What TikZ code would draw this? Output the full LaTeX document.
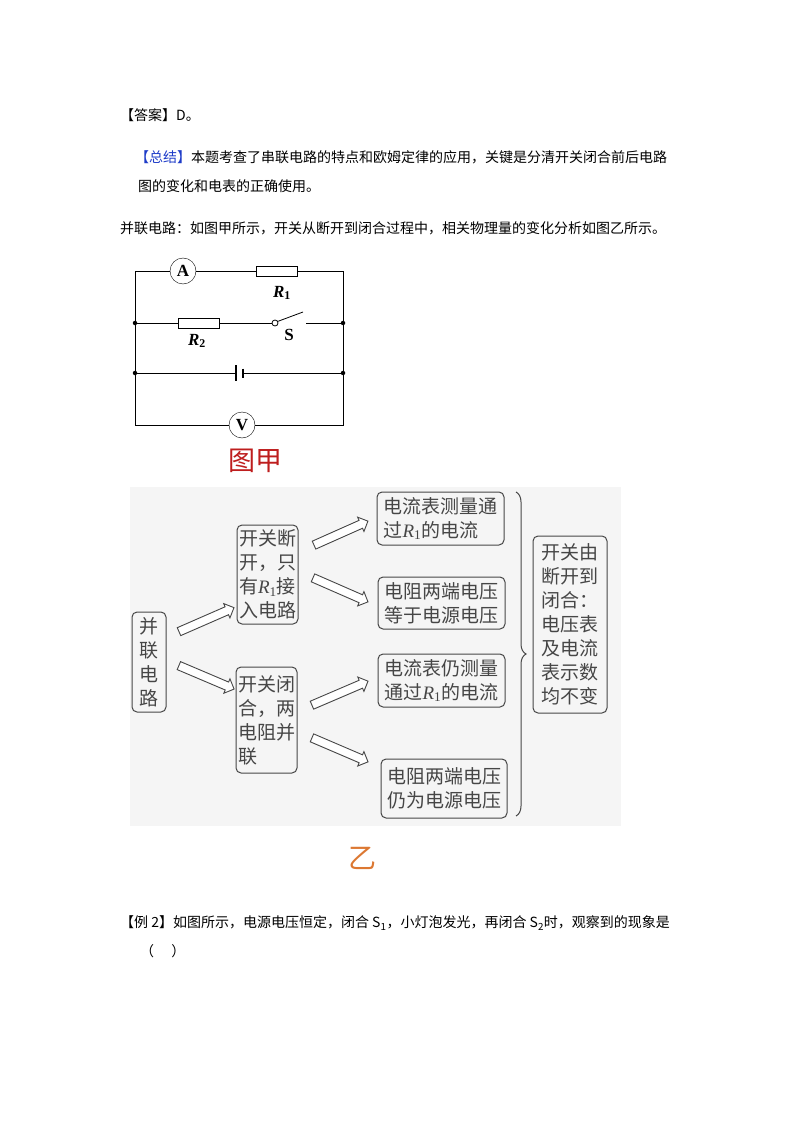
\documentclass[tikz,border=0pt]{standalone}
\usepackage{fontspec}
\setmainfont{Liberation Serif}
\newfontfamily\cjk{Noto Sans CJK SC}
\usetikzlibrary{shapes.arrows,decorations.pathreplacing}
\definecolor{boxgray}{RGB}{70,70,70}
\definecolor{redtitle}{RGB}{190,30,30}
\definecolor{orangetitle}{RGB}{220,120,50}
\definecolor{bluetag}{RGB}{30,60,200}
\newcommand{\Rone}{{\rmfamily\itshape R}\textsubscript{\rmfamily 1}}
\tikzset{
  txt/.style={anchor=west,inner sep=0pt,font=\cjk\fontsize{14}{16}\selectfont},
  res/.style={draw,thick,minimum width=41pt,minimum height=10pt,inner sep=0pt,fill=white},
  meter/.style={draw,circle,minimum size=26pt,inner sep=0pt,fill=white,font=\bfseries\fontsize{17}{17}\selectfont},
  jn/.style={circle,fill,inner sep=0pt,minimum size=4.5pt},
  fbox/.style={draw=boxgray,line width=1pt,rounded corners=5pt,inner sep=0pt,text=boxgray,
     font=\cjk\fontsize{19}{24}\selectfont,align=left},
  hol/.style={draw=boxgray,fill=white,line width=0.9pt,single arrow,inner sep=2.6pt,
     single arrow head extend=3.5pt,single arrow head indent=0pt,minimum height=#1,shape border uses incircle},
}
\begin{document}
\begin{tikzpicture}[x=1pt,y=-1pt]
\useasboundingbox (0,0) rectangle (794,1123);
% header text
\node[txt] (t1) at (120,115) {【答案】D。};
\node[txt] (t2) at (135,157) {\textcolor{bluetag}{【总结】}本题考查了串联电路的特点和欧姆定律的应用，关键是分清开关闭合前后电路};
\node[txt] (t3) at (138,186) {图的变化和电表的正确使用。};
\node[txt] (t4) at (120,228) {并联电路：如图甲所示，开关从断开到闭合过程中，相关物理量的变化分析如图乙所示。};
% circuit
\coordinate (tl) at (135,271); \coordinate (tr) at (343,271);
\coordinate (ml) at (135,323); \coordinate (mr) at (343,323);
\coordinate (bl) at (135,373); \coordinate (br) at (343,373);
\coordinate (vl) at (135,425); \coordinate (vr) at (343,425);
\draw[thick] (tl) -- (tr) -- (vr) -- (vl) -- cycle;
\draw[thick] (ml) -- (271.5,323);
\coordinate (sw) at (275,323);
\coordinate (swend) at (303,312);
\draw[thick] (306,323) -- (mr);
\draw[thick] (bl) -- (236,373) (243,373) -- (br);
\draw[thick, fill=white] (sw) circle (3pt);
\draw[thick] (277.5,321.5) -- (swend);
\draw[line width=1.2pt] (236,365) -- (236,381);
\draw[line width=1.2pt] (243,368.5) -- (243,378);
\node[meter] (A) at (183,271) {A};
\node[res] (R1) at (276.5,271) {};
\node[res] (R2) at (199,323) {};
\node[meter] (V) at (242,425) {V};
\node[font=\bfseries\itshape\fontsize{17}{17}\selectfont] (R1l) at (282,293) {R\textsubscript{\normalfont\bfseries 1}};
\node[font=\bfseries\itshape\fontsize{17}{17}\selectfont] (R2l) at (197,341) {R\textsubscript{\normalfont\bfseries 2}};
\node[font=\bfseries\fontsize{17}{17}\selectfont] (Sl) at (289,335) {S};
\foreach \p in {ml,mr,bl,br} \node[jn] at (\p) {};
\node[text=redtitle,font=\cjk\fontsize{27}{27}\selectfont] (jia) at (255,461) {图甲};
% flowchart background
\fill[black!4] (130,487) rectangle (621,826);
\node[fbox,minimum width=34pt,minimum height=100pt] (p) at (149,662) {并\\联\\电\\路};
\node[fbox,minimum width=61pt,minimum height=99pt] (k1) at (267.5,574.5) {开关断\\开，只\\有\Rone 接\\入电路};
\node[fbox,minimum width=61pt,minimum height=106pt] (k2) at (266.5,720) {开关闭\\合，两\\电阻并\\联};
\node[fbox,minimum width=127pt,minimum height=53pt] (a) at (440.5,518.5) {电流表测量通\\过\Rone 的电流};
\node[fbox,minimum width=127pt,minimum height=52pt] (b) at (441.5,603) {电阻两端电压\\等于电源电压};
\node[fbox,minimum width=127pt,minimum height=53pt] (c) at (441.5,680.5) {电流表仍测量\\通过\Rone 的电流};
\node[fbox,minimum width=126pt,minimum height=59pt] (d) at (444,788.5) {电阻两端电压\\仍为电源电压};
\node[fbox,minimum width=74pt,minimum height=177pt] (r) at (570,624.5) {开关由\\断开到\\闭合：\\电压表\\及电流\\表示数\\均不变};
\node[hol=60pt,rotate=23.6] (h1) at (204.5,620.5) {};
\node[hol=60pt,rotate=-23] (h2) at (204.5,676.5) {};
\node[hol=59pt,rotate=24] (h3) at (339,534) {};
\node[hol=60pt,rotate=-23.6] (h4) at (338.5,589) {};
\node[hol=61pt,rotate=23.2] (h5) at (338,694) {};
\node[hol=61pt,rotate=-23.2] (h6) at (338,749) {};
\coordinate (bt) at (516,492); \coordinate (bb) at (516,816);
\draw[boxgray,line width=1pt,decorate,decoration={brace,amplitude=10pt}] (bt) -- (bb);
\node[text=orangetitle,font=\cjk\fontsize{28}{28}\selectfont] (yi) at (362,858) {乙};
\node[txt] (t5) at (120,923) {【例 2】如图所示，电源电压恒定，闭合 S\textsubscript{1}，小灯泡发光，再闭合 S\textsubscript{2}时，观察到的现象是};
\node[txt] (t6) at (140,951) {（\quad\ ）};
\end{tikzpicture}
\end{document}
